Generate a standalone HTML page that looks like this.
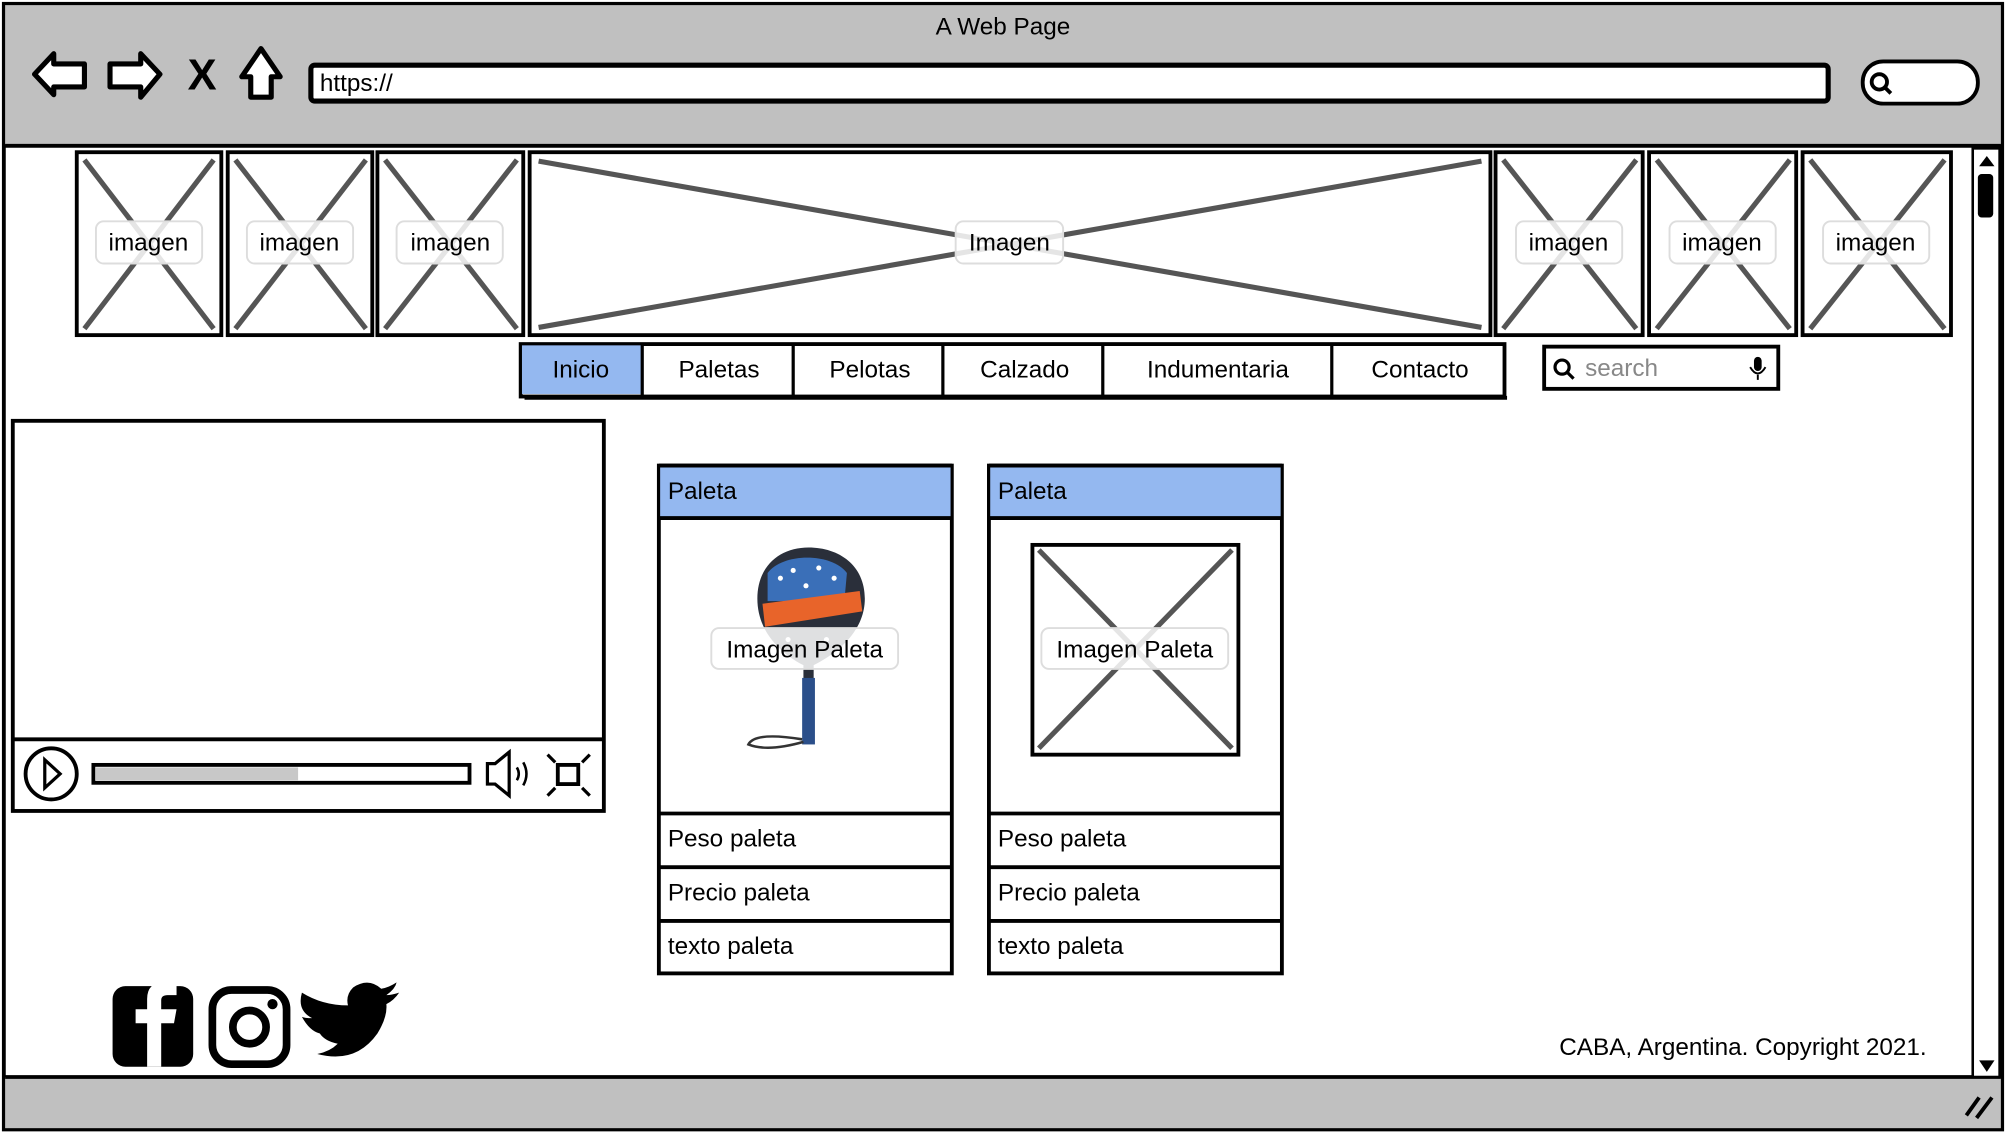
<!DOCTYPE html>
<html><head><meta charset="utf-8"><style>
html,body{margin:0;padding:0;background:#fff;}
svg{display:block;}
text{font-family:"Liberation Sans",sans-serif;fill:#000;}
</style></head><body>
<svg width="2006" height="1132" viewBox="0 0 1568 885" preserveAspectRatio="none" xmlns="http://www.w3.org/2000/svg">
<defs>
<g id="imgbox">
</g>
</defs>
<!-- frame -->
<rect x="3" y="3" width="1562" height="880" fill="#fff" stroke="#000" stroke-width="3"/>
<rect x="4" y="4" width="1560" height="109" fill="#c0c0c0"/>
<line x1="4" y1="114" x2="1564" y2="114" stroke="#000" stroke-width="3"/>
<rect x="4" y="842" width="1560" height="40" fill="#c0c0c0"/>
<line x1="4" y1="842" x2="1564" y2="842" stroke="#000" stroke-width="3"/>
<text x="784" y="27" font-size="19" text-anchor="middle">A Web Page</text>
<!-- nav icons -->
<path d="M27 58 L42 42 L42 50 L66 50 L66 68 L42 68 L42 74 Z" fill="#fff" stroke="#000" stroke-width="4" stroke-linejoin="round"/>
<path d="M125 58 L110 42 L110 50 L86 50 L86 68 L110 68 L110 76 Z" fill="#fff" stroke="#000" stroke-width="4" stroke-linejoin="round"/>
<text x="158" y="70" font-size="34" font-weight="bold" text-anchor="middle">X</text>
<path d="M204 38 L189 60 L196 60 L196 76 L212 76 L212 60 L219 60 Z" fill="#fff" stroke="#000" stroke-width="4" stroke-linejoin="round"/>
<rect x="243" y="51" width="1186" height="28" rx="3" fill="#fff" stroke="#000" stroke-width="4"/>
<text x="250" y="71" font-size="19">https://</text>
<rect x="1456" y="48" width="90" height="33" rx="16" fill="#fff" stroke="#000" stroke-width="3"/>
<circle cx="1469" cy="64" r="6" fill="none" stroke="#000" stroke-width="3"/>
<line x1="1473" y1="68" x2="1478" y2="73" stroke="#000" stroke-width="3"/>
<!-- scrollbar -->
<rect x="1542" y="116" width="21" height="726" fill="#fff" stroke="#000" stroke-width="2"/>
<path d="M1547 130 L1553 122 L1559 130 Z" fill="#000"/>
<rect x="1546" y="136" width="12" height="34" rx="3" fill="#000"/>
<path d="M1547 829 L1559 829 L1553 838 Z" fill="#000"/>
<path d="M1537 872 L1547 858 M1545 874 L1557 858" stroke="#000" stroke-width="3"/>
<!-- images -->
<g stroke="#555" stroke-width="4">
<line x1="66" y1="125" x2="167" y2="257"/><line x1="167" y1="125" x2="66" y2="257"/>
<line x1="184" y1="125" x2="286" y2="257"/><line x1="286" y1="125" x2="184" y2="257"/>
<line x1="301" y1="125" x2="404" y2="257"/><line x1="404" y1="125" x2="301" y2="257"/>
<line x1="421" y1="126" x2="1158" y2="256"/><line x1="1158" y1="126" x2="421" y2="256"/>
<line x1="1175" y1="125" x2="1279" y2="257"/><line x1="1279" y1="125" x2="1175" y2="257"/>
<line x1="1295" y1="125" x2="1399" y2="257"/><line x1="1399" y1="125" x2="1295" y2="257"/>
<line x1="1415" y1="125" x2="1520" y2="257"/><line x1="1520" y1="125" x2="1415" y2="257"/>
</g>
<g fill="none" stroke="#000" stroke-width="3">
<rect x="60" y="119" width="113" height="143"/>
<rect x="178" y="119" width="113" height="143"/>
<rect x="295" y="119" width="114" height="143"/>
<rect x="414" y="119" width="751" height="143"/>
<rect x="1169" y="119" width="115" height="143"/>
<rect x="1289" y="119" width="115" height="143"/>
<rect x="1409" y="119" width="116" height="143"/>
</g>
<g fill="#fff" fill-opacity="0.85" stroke="#ddd" stroke-width="1.5">
<rect x="75" y="173" width="83" height="33" rx="6"/>
<rect x="193" y="173" width="83" height="33" rx="6"/>
<rect x="310" y="173" width="83" height="33" rx="6"/>
<rect x="747" y="173" width="84" height="33" rx="6"/>
<rect x="1185" y="173" width="83" height="33" rx="6"/>
<rect x="1305" y="173" width="83" height="33" rx="6"/>
<rect x="1425" y="173" width="83" height="33" rx="6"/>
</g>
<g font-size="19" text-anchor="middle">
<text x="116" y="196">imagen</text><text x="234" y="196">imagen</text><text x="352" y="196">imagen</text>
<text x="789" y="196">Imagen</text>
<text x="1226" y="196">imagen</text><text x="1346" y="196">imagen</text><text x="1466" y="196">imagen</text>
</g>
<!-- menu -->
<rect x="407" y="269" width="769" height="41" fill="#fff" stroke="#000" stroke-width="3"/>
<rect x="408" y="270" width="94" height="38" fill="#94b8f0"/>
<g stroke="#000" stroke-width="2.5">
<line x1="502" y1="269" x2="502" y2="309"/><line x1="620" y1="269" x2="620" y2="309"/>
<line x1="737" y1="269" x2="737" y2="309"/><line x1="862" y1="269" x2="862" y2="309"/>
<line x1="1041" y1="269" x2="1041" y2="309"/>
</g>
<line x1="410" y1="311" x2="1178" y2="311" stroke="#000" stroke-width="3"/>
<g font-size="19" text-anchor="middle">
<text x="454" y="295">Inicio</text><text x="562" y="295">Paletas</text><text x="680" y="295">Pelotas</text>
<text x="801" y="295">Calzado</text><text x="952" y="295">Indumentaria</text><text x="1110" y="295">Contacto</text>
</g>
<!-- search -->
<rect x="1207" y="271" width="183" height="33" fill="#fff" stroke="#000" stroke-width="3"/>
<circle cx="1221" cy="287" r="5.5" fill="none" stroke="#000" stroke-width="2.5"/>
<line x1="1225" y1="291" x2="1230" y2="296" stroke="#000" stroke-width="2.5"/>
<text x="1239" y="294" font-size="19" fill="#888" style="fill:#888">search</text>
<rect x="1371" y="279" width="6" height="11" rx="3" fill="#000"/>
<path d="M1368 287 Q1374 297 1380 287 M1374 293 L1374 297" stroke="#000" stroke-width="1.5" fill="none"/>
<!-- video -->
<rect x="10" y="329" width="462" height="305" fill="#fff" stroke="#000" stroke-width="3"/>
<line x1="10" y1="578" x2="472" y2="578" stroke="#000" stroke-width="3"/>
<circle cx="40" cy="605" r="20" fill="none" stroke="#000" stroke-width="3"/>
<path d="M35 594 L47 605 L35 616 Z" fill="none" stroke="#000" stroke-width="2.5"/>
<rect x="73" y="598" width="294" height="14" fill="#fff" stroke="#000" stroke-width="3"/>
<rect x="75" y="600" width="158" height="10" fill="#c8c8c8"/>
<path d="M381 597 L387 597 L398 588 L398 622 L387 613 L381 613 Z" fill="none" stroke="#000" stroke-width="2.5"/>
<path d="M404 600 Q407 605 404 610 M409 596 Q414 605 409 614" fill="none" stroke="#000" stroke-width="2"/>
<rect x="436" y="598" width="16" height="15" fill="none" stroke="#000" stroke-width="3"/>
<path d="M428 590 L434 596 M461 590 L455 596 M428 622 L434 616 M461 622 L455 616" stroke="#000" stroke-width="2.5"/>
<!-- cards -->
<g stroke="#000" stroke-width="3">
<rect x="515" y="364" width="229" height="397" fill="#fff"/>
<rect x="516" y="365" width="227" height="40" fill="#94b8f0" stroke="none"/>
<line x1="515" y1="405" x2="744" y2="405"/><line x1="515" y1="636" x2="744" y2="636"/>
<line x1="515" y1="678" x2="744" y2="678"/><line x1="515" y1="720" x2="744" y2="720"/>
<rect x="773" y="364" width="229" height="397" fill="#fff"/>
<rect x="774" y="365" width="227" height="40" fill="#94b8f0" stroke="none"/>
<line x1="773" y1="405" x2="1002" y2="405"/><line x1="773" y1="636" x2="1002" y2="636"/>
<line x1="773" y1="678" x2="1002" y2="678"/><line x1="773" y1="720" x2="1002" y2="720"/>
<line x1="515" y1="364" x2="744" y2="364"/><line x1="773" y1="364" x2="1002" y2="364"/>
</g>
<!-- racket -->
<path d="M632 428 C610 428 592 442 592 468 C592 495 612 512 628 520 L628 580 L636 580 L636 520 C652 512 676 495 676 468 C676 442 656 428 632 428 Z" fill="#2a2f3a"/>
<path d="M600 448 C612 432 650 432 662 448 L660 470 L600 470 Z" fill="#3a6fb8"/>
<path d="M596 472 L672 462 L674 478 L598 490 Z" fill="#e8642a"/>
<g fill="#fff"><circle cx="610" cy="452" r="2"/><circle cx="620" cy="446" r="2"/><circle cx="640" cy="444" r="2"/><circle cx="652" cy="452" r="2"/><circle cx="616" cy="500" r="2"/><circle cx="646" cy="500" r="2"/><circle cx="630" cy="458" r="2"/></g>
<rect x="627" y="530" width="10" height="52" fill="#2b4f8a"/>
<path d="M627 578 Q590 572 585 582 Q600 588 628 580" fill="none" stroke="#333" stroke-width="2"/>
<!-- card2 placeholder -->
<line x1="812" y1="430" x2="963" y2="585" stroke="#555" stroke-width="4"/>
<line x1="963" y1="430" x2="812" y2="585" stroke="#555" stroke-width="4"/>
<rect x="807" y="426" width="161" height="164" fill="none" stroke="#000" stroke-width="3"/>
<rect x="556" y="491" width="146" height="32" rx="6" fill="#fff" fill-opacity="0.85" stroke="#ddd" stroke-width="1.5"/>
<rect x="814" y="491" width="146" height="32" rx="6" fill="#fff" fill-opacity="0.85" stroke="#ddd" stroke-width="1.5"/>
<g font-size="19">
<text x="522" y="390">Paleta</text><text x="780" y="390">Paleta</text>
<text x="629" y="514" text-anchor="middle">Imagen Paleta</text><text x="887" y="514" text-anchor="middle">Imagen Paleta</text>
<text x="522" y="662">Peso paleta</text><text x="522" y="704">Precio paleta</text><text x="522" y="746">texto paleta</text>
<text x="780" y="662">Peso paleta</text><text x="780" y="704">Precio paleta</text><text x="780" y="746">texto paleta</text>
</g>
<!-- social -->
<rect x="88" y="771" width="63" height="63" rx="10" fill="#000"/>
<path d="M126 834 L126 800 L136 800 L138 789 L126 789 L126 782 Q126 778 131 778 L138 778 L138 768 L128 768 Q115 768 115 781 L115 789 L106 789 L106 800 L115 800 L115 834 Z" fill="#fff"/>
<rect x="166" y="774" width="58" height="58" rx="15" fill="none" stroke="#000" stroke-width="6"/>
<circle cx="195" cy="803" r="13" fill="none" stroke="#000" stroke-width="6"/>
<circle cx="213" cy="785" r="4" fill="#000"/>
<path d="M238 824 Q268 832 285 808 Q293 795 292 785 Q298 782 302 776 Q296 778 292 778 Q299 773 300 768 Q294 772 288 773 Q278 764 266 772 Q260 778 262 786 Q242 786 226 776 Q222 790 234 796 Q228 796 226 795 Q232 806 240 808 Q244 814 254 816 Q248 822 238 824 Z" fill="#000" transform="translate(10,0)"/>
<text x="1506" y="825" font-size="19" text-anchor="end">CABA, Argentina. Copyright 2021.</text>
</svg>
</body></html>
